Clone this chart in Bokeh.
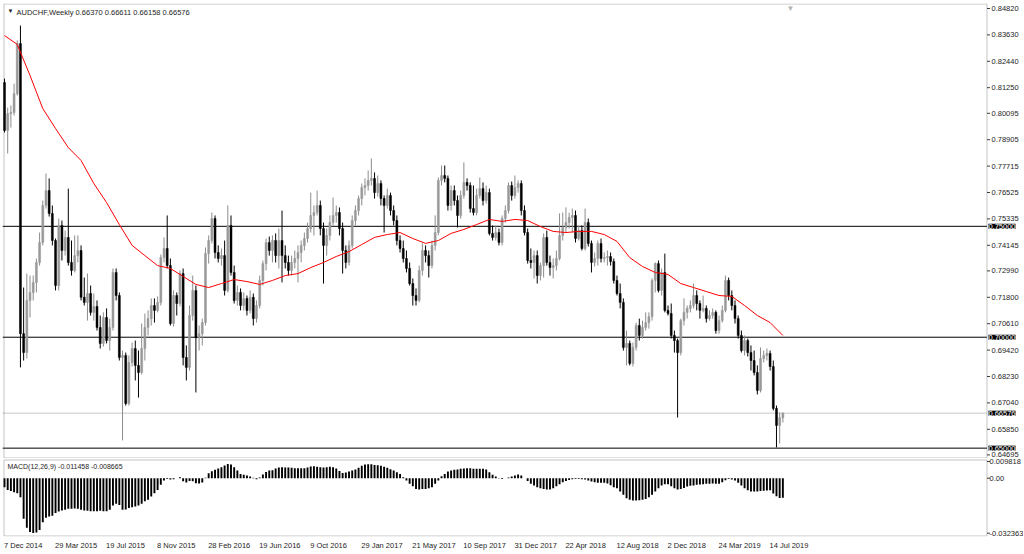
from bokeh.plotting import figure
from bokeh.models import Range1d, FixedTicker, Label, ColumnDataSource, BoxAnnotation
from bokeh.layouts import column
from bokeh.embed import file_html
from bokeh.resources import INLINE

symbol_title = "AUDCHF,Weekly  0.66370 0.66611 0.66158 0.66576"
macd_title = "MACD(12,26,9) -0.011458 -0.008665"

first_open = 0.8148
close = [
    0.7932, 0.8008, 0.8013, 0.8098, 0.8324, 0.7016, 0.6931, 0.7166, 0.7202, 0.7247,
    0.7337, 0.7427, 0.7594, 0.7661, 0.7558, 0.7436, 0.7233, 0.7504, 0.7391, 0.7450,
    0.7337, 0.7301, 0.7368, 0.7391, 0.7180, 0.7157, 0.7197, 0.7112, 0.7139, 0.7044,
    0.6972, 0.7089, 0.6985, 0.7044, 0.7292, 0.7188, 0.6909, 0.6918, 0.6701, 0.6886,
    0.6949, 0.6873, 0.6841, 0.6949, 0.7044, 0.7084, 0.7143, 0.7121, 0.7157, 0.7359,
    0.7400, 0.7323, 0.7062, 0.7188, 0.7152, 0.7287, 0.6909, 0.6864, 0.7098, 0.7211,
    0.6998, 0.7016, 0.7066, 0.7377, 0.7436, 0.7535, 0.7382, 0.7355, 0.7368, 0.7211,
    0.7504, 0.7292, 0.7166, 0.7202, 0.7143, 0.7175, 0.7121, 0.7180, 0.7084, 0.7143,
    0.7256, 0.7332, 0.7427, 0.7391, 0.7436, 0.7368, 0.7436, 0.7368, 0.7337, 0.7301,
    0.7337, 0.7355, 0.7382, 0.7414, 0.7445, 0.7490, 0.7549, 0.7562, 0.7594, 0.7490,
    0.7414, 0.7459, 0.7517, 0.7549, 0.7562, 0.7490, 0.7391, 0.7337, 0.7414, 0.7526,
    0.7571, 0.7625, 0.7675, 0.7684, 0.7707, 0.7716, 0.7652, 0.7693, 0.7625, 0.7594,
    0.7639, 0.7571, 0.7526, 0.7436, 0.7400, 0.7355, 0.7310, 0.7242, 0.7188, 0.7166,
    0.7301, 0.7391, 0.7368, 0.7323, 0.7414, 0.7472, 0.7707, 0.7729, 0.7716, 0.7594,
    0.7661, 0.7616, 0.7549, 0.7639, 0.7698, 0.7684, 0.7580, 0.7562, 0.7639, 0.7670,
    0.7616, 0.7652, 0.7468, 0.7450, 0.7472, 0.7427, 0.7535, 0.7571, 0.7684, 0.7639,
    0.7675, 0.7693, 0.7571, 0.7472, 0.7346, 0.7337, 0.7368, 0.7278, 0.7323, 0.7450,
    0.7337, 0.7314, 0.7323, 0.7355, 0.7459, 0.7495, 0.7517, 0.7540, 0.7549, 0.7445,
    0.7481, 0.7400, 0.7517, 0.7423, 0.7337, 0.7355, 0.7423, 0.7355, 0.7359, 0.7364,
    0.7341, 0.7256, 0.7197, 0.7157, 0.6954, 0.6972, 0.6882, 0.6954, 0.7053, 0.7008,
    0.7044, 0.7066, 0.7093, 0.7256, 0.7332, 0.7211, 0.7292, 0.7121, 0.7107, 0.7008,
    0.6985, 0.6931, 0.7075, 0.7112, 0.7130, 0.7143, 0.7188, 0.7152, 0.7121, 0.7130,
    0.7084, 0.7098, 0.7112, 0.7030, 0.7075, 0.7121, 0.7256, 0.7188, 0.7143, 0.7084,
    0.7008, 0.6940, 0.6985, 0.6931, 0.6895, 0.6841, 0.6760, 0.6904, 0.6918, 0.6927,
    0.6868, 0.6679, 0.6602, 0.6637, 0.66576,
]
high = [
    0.8166, 0.8035, 0.8045, 0.8143, 0.8338, 0.8405, 0.7224, 0.7287, 0.7278, 0.7278,
    0.7355, 0.7472, 0.7616, 0.7738, 0.7716, 0.7594, 0.7445, 0.7535, 0.7526, 0.7481,
    0.7670, 0.7436, 0.7459, 0.7459, 0.7414, 0.7269, 0.7287, 0.7233, 0.7197, 0.7166,
    0.7098, 0.7112, 0.7130, 0.7084, 0.7310, 0.7310, 0.7202, 0.6940, 0.6931, 0.6918,
    0.6976, 0.6985, 0.6940, 0.7062, 0.7107, 0.7121, 0.7175, 0.7175, 0.7184, 0.7373,
    0.7450, 0.7549, 0.7355, 0.7211, 0.7202, 0.7301, 0.7310, 0.6963, 0.7143, 0.7278,
    0.7233, 0.7053, 0.7084, 0.7405, 0.7459, 0.7562, 0.7549, 0.7414, 0.7400, 0.7436,
    0.7594, 0.7549, 0.7323, 0.7233, 0.7220, 0.7202, 0.7188, 0.7211, 0.7197, 0.7166,
    0.7278, 0.7346, 0.7445, 0.7454, 0.7459, 0.7468, 0.7490, 0.7571, 0.7414, 0.7368,
    0.7368, 0.7391, 0.7414, 0.7436, 0.7472, 0.7517, 0.7652, 0.7594, 0.7661, 0.7616,
    0.7517, 0.7490, 0.7549, 0.7630, 0.7594, 0.7585, 0.7517, 0.7414, 0.7436, 0.7549,
    0.7594, 0.7639, 0.7693, 0.7716, 0.7752, 0.7806, 0.7743, 0.7729, 0.7707, 0.7639,
    0.7670, 0.7652, 0.7594, 0.7549, 0.7459, 0.7436, 0.7391, 0.7337, 0.7265, 0.7220,
    0.7323, 0.7423, 0.7414, 0.7391, 0.7436, 0.7549, 0.7720, 0.7774, 0.7774, 0.7729,
    0.7684, 0.7684, 0.7639, 0.7661, 0.7788, 0.7716, 0.7698, 0.7684, 0.7670, 0.7720,
    0.7698, 0.7684, 0.7670, 0.7504, 0.7504, 0.7490, 0.7549, 0.7594, 0.7698, 0.7702,
    0.7729, 0.7707, 0.7707, 0.7594, 0.7490, 0.7400, 0.7391, 0.7391, 0.7337, 0.7468,
    0.7481, 0.7368, 0.7355, 0.7391, 0.7558, 0.7562, 0.7585, 0.7562, 0.7580, 0.7571,
    0.7504, 0.7504, 0.7580, 0.7535, 0.7436, 0.7382, 0.7436, 0.7445, 0.7382, 0.7391,
    0.7382, 0.7355, 0.7278, 0.7242, 0.7175, 0.7030, 0.6985, 0.6976, 0.7066, 0.7084,
    0.7075, 0.7112, 0.7112, 0.7265, 0.7337, 0.7346, 0.7310, 0.7377, 0.7143, 0.7152,
    0.7030, 0.6994, 0.7084, 0.7175, 0.7143, 0.7166, 0.7242, 0.7211, 0.7166, 0.7188,
    0.7143, 0.7121, 0.7130, 0.7121, 0.7098, 0.7143, 0.7278, 0.7269, 0.7211, 0.7166,
    0.7098, 0.7030, 0.7008, 0.6994, 0.6963, 0.6940, 0.6873, 0.6954, 0.6940, 0.6949,
    0.6940, 0.6895, 0.6692, 0.6661, 0.66611,
]
low = [
    0.7923, 0.7828, 0.7945, 0.7999, 0.8089, 0.6864, 0.6895, 0.6904, 0.7089, 0.7166,
    0.7202, 0.7323, 0.7414, 0.7580, 0.7544, 0.7414, 0.7211, 0.7211, 0.7346, 0.7368,
    0.7323, 0.7278, 0.7292, 0.7337, 0.7166, 0.7143, 0.7075, 0.7098, 0.7075, 0.7030,
    0.6949, 0.6958, 0.6972, 0.6940, 0.7030, 0.7166, 0.6895, 0.6535, 0.6692, 0.6692,
    0.6868, 0.6805, 0.6728, 0.6832, 0.6895, 0.7008, 0.7053, 0.7066, 0.7112, 0.7143,
    0.7337, 0.7310, 0.7053, 0.7048, 0.7098, 0.7139, 0.6873, 0.6805, 0.6850, 0.7075,
    0.6751, 0.6940, 0.6963, 0.7053, 0.7332, 0.7423, 0.7355, 0.7337, 0.7323, 0.7188,
    0.7202, 0.7278, 0.7152, 0.7143, 0.7121, 0.7121, 0.7098, 0.7107, 0.7053, 0.7066,
    0.7130, 0.7233, 0.7301, 0.7368, 0.7337, 0.7337, 0.7310, 0.7247, 0.7310, 0.7278,
    0.7278, 0.7310, 0.7247, 0.7337, 0.7391, 0.7427, 0.7472, 0.7459, 0.7549, 0.7459,
    0.7242, 0.7368, 0.7436, 0.7504, 0.7517, 0.7459, 0.7287, 0.7310, 0.7323, 0.7400,
    0.7504, 0.7549, 0.7594, 0.7639, 0.7661, 0.7684, 0.7625, 0.7634, 0.7594, 0.7472,
    0.7580, 0.7549, 0.7504, 0.7414, 0.7382, 0.7337, 0.7292, 0.7233, 0.7143, 0.7143,
    0.7157, 0.7278, 0.7337, 0.7269, 0.7310, 0.7391, 0.7459, 0.7684, 0.7698, 0.7571,
    0.7571, 0.7594, 0.7495, 0.7535, 0.7625, 0.7661, 0.7562, 0.7549, 0.7549, 0.7625,
    0.7594, 0.7603, 0.7459, 0.7436, 0.7436, 0.7414, 0.7414, 0.7517, 0.7558, 0.7616,
    0.7625, 0.7652, 0.7549, 0.7459, 0.7332, 0.7310, 0.7265, 0.7242, 0.7256, 0.7269,
    0.7323, 0.7278, 0.7265, 0.7301, 0.7346, 0.7436, 0.7472, 0.7490, 0.7472, 0.7427,
    0.7436, 0.7391, 0.7391, 0.7409, 0.7292, 0.7319, 0.7323, 0.7337, 0.7337, 0.7323,
    0.7323, 0.7242, 0.7188, 0.7130, 0.6940, 0.6873, 0.6873, 0.6868, 0.6940, 0.6985,
    0.6994, 0.7030, 0.7039, 0.7075, 0.7202, 0.7202, 0.7188, 0.7112, 0.7098, 0.6994,
    0.6931, 0.6638, 0.6918, 0.7053, 0.7084, 0.7112, 0.7130, 0.7121, 0.7084, 0.7112,
    0.7066, 0.7075, 0.7084, 0.7016, 0.7016, 0.7066, 0.7112, 0.7166, 0.7121, 0.7062,
    0.6994, 0.6931, 0.6918, 0.6913, 0.6850, 0.6828, 0.6742, 0.6751, 0.6886, 0.6895,
    0.6850, 0.6670, 0.6503, 0.6521, 0.66158,
]
macd_hist = [
    -0.0053, -0.0069, -0.0076, -0.0082, -0.0088, -0.0112, -0.0239, -0.0292, -0.0316, -0.0323,
    -0.0319, -0.0304, -0.0259, -0.0233, -0.0225, -0.0221, -0.0204, -0.0196, -0.0190, -0.0186,
    -0.0180, -0.0180, -0.0178, -0.0180, -0.0186, -0.0190, -0.0192, -0.0194, -0.0194, -0.0194,
    -0.0192, -0.0194, -0.0194, -0.0186, -0.0161, -0.0151, -0.0157, -0.0186, -0.0184, -0.0176,
    -0.0171, -0.0167, -0.0161, -0.0151, -0.0135, -0.0127, -0.0108, -0.0088, -0.0069, -0.0039,
    -0.0014, -0.0004, -0.0008, -0.0006, -0.0001, 0.0006, -0.0018, -0.0025, -0.0016, -0.0018,
    -0.0029, -0.0031, -0.0025, 0.0002, 0.0029, 0.0041, 0.0049, 0.0057, 0.0065, 0.0074,
    0.0084, 0.0080, 0.0065, 0.0045, 0.0025, 0.0020, 0.0016, 0.0010, 0.0002, -0.0006,
    0.0004, 0.0022, 0.0037, 0.0045, 0.0047, 0.0057, 0.0063, 0.0065, 0.0063, 0.0063,
    0.0061, 0.0059, 0.0059, 0.0059, 0.0059, 0.0063, 0.0069, 0.0071, 0.0067, 0.0065,
    0.0063, 0.0065, 0.0067, 0.0065, 0.0057, 0.0043, 0.0031, 0.0033, 0.0039, 0.0045,
    0.0051, 0.0061, 0.0073, 0.0080, 0.0082, 0.0082, 0.0078, 0.0076, 0.0073, 0.0067,
    0.0061, 0.0053, 0.0045, 0.0035, 0.0025, 0.0006, -0.0014, -0.0033, -0.0047, -0.0063,
    -0.0067, -0.0063, -0.0063, -0.0059, -0.0053, -0.0033, -0.0014, 0.0012, 0.0025, 0.0039,
    0.0045, 0.0049, 0.0051, 0.0055, 0.0057, 0.0059, 0.0059, 0.0055, 0.0055, 0.0055,
    0.0055, 0.0051, 0.0035, 0.0020, 0.0010, -0.0002, -0.0004, -0.0001, 0.0004, 0.0010,
    0.0016, 0.0022, 0.0016, -0.0001, -0.0016, -0.0033, -0.0043, -0.0053, -0.0059, -0.0063,
    -0.0067, -0.0067, -0.0059, -0.0047, -0.0035, -0.0024, -0.0016, -0.0010, -0.0006, -0.0004,
    -0.0004, -0.0006, -0.0008, -0.0014, -0.0020, -0.0024, -0.0027, -0.0027, -0.0027, -0.0031,
    -0.0041, -0.0053, -0.0059, -0.0078, -0.0098, -0.0118, -0.0127, -0.0131, -0.0131, -0.0129,
    -0.0127, -0.0122, -0.0112, -0.0098, -0.0078, -0.0059, -0.0043, -0.0035, -0.0035, -0.0047,
    -0.0059, -0.0067, -0.0063, -0.0057, -0.0049, -0.0045, -0.0043, -0.0039, -0.0037, -0.0035,
    -0.0033, -0.0033, -0.0031, -0.0033, -0.0033, -0.0024, -0.0012, -0.0004, -0.0008, -0.0014,
    -0.0027, -0.0043, -0.0059, -0.0071, -0.0078, -0.0078, -0.0078, -0.0076, -0.0074, -0.0073,
    -0.0071, -0.0090, -0.0106, -0.0116, -0.011458,
]
ma_bars = list(range(0, 245, 4))
ma_values = [
    0.8360, 0.8320, 0.8180, 0.8031, 0.7941, 0.7855, 0.7797, 0.7693, 0.7607, 0.7508,
    0.7414, 0.7368, 0.7323, 0.7310, 0.7274, 0.7238, 0.7224, 0.7242, 0.7260, 0.7251,
    0.7238, 0.7256, 0.7278, 0.7287, 0.7314, 0.7337, 0.7364, 0.7386, 0.7418, 0.7450,
    0.7463, 0.7472, 0.7445, 0.7423, 0.7436, 0.7468, 0.7486, 0.7508, 0.7531, 0.7522,
    0.7531, 0.7526, 0.7499, 0.7477, 0.7472, 0.7477, 0.7477, 0.7463, 0.7432, 0.7359,
    0.7319, 0.7292, 0.7283, 0.7242, 0.7224, 0.7206, 0.7188, 0.7184, 0.7143, 0.7098,
    0.7066, 0.7008,
]
date_tick_bars = list(range(0, 241, 16))
date_tick_labels = ["7 Dec 2014", "29 Mar 2015", "19 Jul 2015", "8 Nov 2015", "28 Feb 2016",
                    "19 Jun 2016", "9 Oct 2016", "29 Jan 2017", "21 May 2017", "10 Sep 2017",
                    "31 Dec 2017", "22 Apr 2018", "12 Aug 2018", "2 Dec 2018", "24 Mar 2019",
                    "14 Jul 2019"]
price_ticks = [0.84820, 0.83630, 0.82440, 0.81250, 0.80095, 0.78905, 0.77715, 0.76525,
               0.75335, 0.74145, 0.72990, 0.71800, 0.70610, 0.69420, 0.68230, 0.67040,
               0.65850, 0.64695]
price_tick_texts = ["0.84820", "0.83630", "0.82440", "0.81250", "0.80095", "0.78905",
                    "0.77715", "0.76525", "0.75335", "0.74145", "0.72990", "0.71800",
                    "0.70610", "0.69420", "0.68230", "0.67040", "0.65850", "0.64695"]
macd_ticks = [0.009818, 0.0, -0.032363]
macd_tick_texts = ["0.009818", "0.00", "-0.032363"]
level_lines = [0.75, 0.70, 0.65]
bid_price = 0.66576
tag_prices = [0.75, 0.70, 0.66576, 0.65]
tag_texts = ["0.75000", "0.70000", "0.66576", "0.65000"]

# ---- layout constants (pixels / bar units) ----
FONT = "Liberation Sans"
TXT = "#1e1e1e"
EDGE_C = "#3c3c3c"
PX = 3.19                      # pixels per weekly bar
X0 = -0.627                    # bar value at the left frame edge
FW = 1021
X1 = X0 + FW / PX
EDGE = 307.99                  # right border of the chart area (bar units)
LEFT_B = -0.157
TICK_LEN = 0.94
LABEL_X = 309.4

n = len(close)
bars = list(range(n))
opens = [first_open] + close[:-1]
is_up = [c >= o for o, c in zip(opens, close)]
src = ColumnDataSource(dict(
    x=bars, high=high, low=low,
    top=[max(o, c) for o, c in zip(opens, close)],
    bottom=[min(o, c) for o, c in zip(opens, close)],
    bc=["#999999" if u else "#000000" for u in is_up],
    wc=["#8c8c8c" if u else "#000000" for u in is_up],
))

xr = Range1d(X0, X1)

# ---------------- price panel ----------------
p = figure(frame_width=FW, frame_height=455, x_range=xr, y_range=Range1d(0.64533, 0.85045),
           output_backend="svg", toolbar_location=None, x_axis_location=None,
           y_axis_location=None, min_border_left=2, min_border_top=3,
           min_border_bottom=0, min_border_right=0)
p.grid.visible = False
p.outline_line_color = None
p.background_fill_color = "white"
p.border_fill_color = "white"

p.add_layout(BoxAnnotation(left=LEFT_B, right=EDGE, top=0.85022, bottom=0.64556,
                           fill_alpha=0, line_color=EDGE_C, line_width=1))

p.segment(x0=[X0] * len(level_lines), y0=level_lines, x1=[EDGE] * len(level_lines),
          y1=level_lines, line_color="black", line_width=1)
p.segment(x0=[X0], y0=[bid_price], x1=[EDGE], y1=[bid_price], line_color="#c8c8c8",
          line_width=1)

p.segment(x0="x", y0="low", x1="x", y1="high", line_color="wc", line_width=1, source=src)
p.vbar(x="x", top="top", bottom="bottom", width=0.62, fill_color="bc", line_color="bc",
       line_width=0.5, source=src)
p.line(ma_bars, ma_values, line_color="#ff0000", line_width=1)

# price scale (right)
p.segment(x0=[EDGE] * len(price_ticks), y0=price_ticks, x1=[EDGE + TICK_LEN] * len(price_ticks),
          y1=price_ticks, line_color=EDGE_C, line_width=1)
for val, txt in zip(price_ticks, price_tick_texts):
    p.add_layout(Label(x=LABEL_X, y=val, text=txt, text_font=FONT, text_font_size="7.5px",
                       text_color=TXT, text_baseline="middle", text_align="left"))
for val, txt in zip(tag_prices, tag_texts):
    p.add_layout(Label(x=EDGE + 0.45, y=val, text=txt, text_font=FONT, text_font_size="7.5px",
                       text_color="white", background_fill_color="black",
                       text_baseline="middle", text_align="left"))

p.add_layout(Label(x=5, y=451, x_units="screen", y_units="screen", text="\u25bc",
                   text_font=FONT, text_font_size="6px", text_color="#202020",
                   text_baseline="top"))
p.add_layout(Label(x=14, y=451, x_units="screen", y_units="screen", text=symbol_title,
                   text_font=FONT, text_font_size="7.5px", text_color=TXT,
                   text_baseline="top"))
p.add_layout(Label(x=784, y=455, x_units="screen", y_units="screen", text="\u25bc",
                   text_font=FONT, text_font_size="8px", text_color="#b4b4b4",
                   text_baseline="top"))

# ---------------- MACD panel ----------------
q = figure(frame_width=FW, frame_height=78, x_range=xr, y_range=Range1d(-0.034294, 0.011588),
           output_backend="svg", toolbar_location=None, y_axis_location=None,
           min_border_left=2, min_border_top=0, min_border_bottom=17, min_border_right=0)
q.grid.visible = False
q.outline_line_color = None
q.background_fill_color = "white"
q.border_fill_color = "white"
q.add_layout(BoxAnnotation(left=LEFT_B, right=EDGE, top=0.010706, bottom=-0.0340,
                           fill_alpha=0, line_color=EDGE_C, line_width=1))
q.vbar(x=bars, top=macd_hist, bottom=0, width=0.6, fill_color="black", line_color=None)

q.segment(x0=[EDGE] * len(macd_ticks), y0=macd_ticks, x1=[EDGE + TICK_LEN] * len(macd_ticks),
          y1=macd_ticks, line_color=EDGE_C, line_width=1)
for val, txt in zip(macd_ticks, macd_tick_texts):
    q.add_layout(Label(x=LABEL_X - 0.6, y=val, text=txt, text_font=FONT, text_font_size="7.5px",
                       text_color=TXT, text_baseline="middle", text_align="left"))

q.add_layout(Label(x=5, y=74, x_units="screen", y_units="screen", text=macd_title,
                   text_font=FONT, text_font_size="7px", text_color=TXT,
                   text_baseline="top"))

# date axis: labels start at their bar, Bokeh centres them, so centre = bar + half width
CW = {" ": 0.278, "D": 0.722, "M": 0.833, "J": 0.5, "N": 0.722, "F": 0.611, "O": 0.778,
      "A": 0.667, "S": 0.667, "c": 0.5, "r": 0.333, "l": 0.222, "v": 0.5, "y": 0.5, "t": 0.278}
def text_w(s, size=7.5):
    return sum(CW.get(ch, 0.556) for ch in s) * size

label_centres = [b + (text_w(t) / 2 - 0.5) / PX for b, t in zip(date_tick_bars, date_tick_labels)]
xa = q.xaxis[0]
xa.ticker = FixedTicker(ticks=label_centres)
xa.major_label_overrides = {c: t for c, t in zip(label_centres, date_tick_labels)}
xa.major_label_text_font = FONT
xa.major_label_text_font_size = "7.5px"
xa.major_label_text_color = TXT
xa.major_tick_out = 0
xa.major_tick_in = 0
xa.minor_tick_out = 0
xa.minor_tick_in = 0
xa.axis_line_color = None
xa.major_label_standoff = 4

layout = column(p, q, spacing=0)
open("out.html", "w").write(file_html(layout, INLINE))
